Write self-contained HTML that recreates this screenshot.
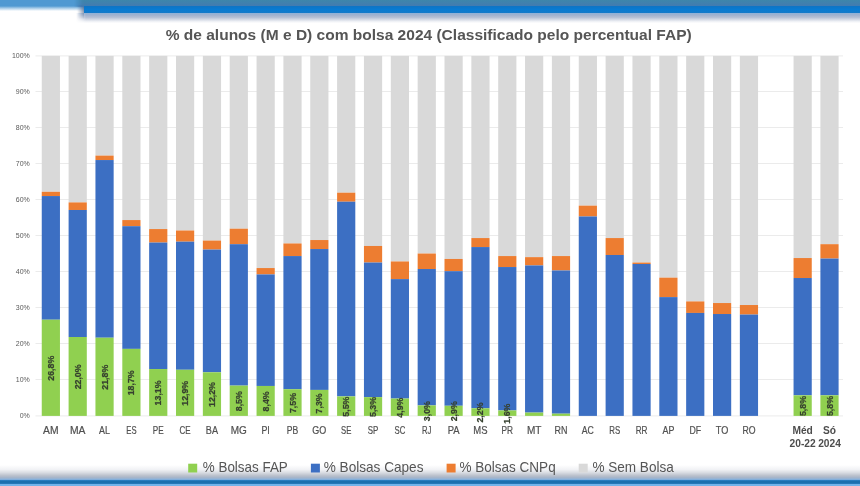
<!DOCTYPE html>
<html lang="pt"><head><meta charset="utf-8"><title>% de alunos com bolsa 2024</title>
<style>
html,body{margin:0;padding:0;background:#fff;}
body{width:860px;height:486px;position:relative;overflow:hidden;font-family:"Liberation Sans",sans-serif;}
.tl{position:absolute;left:0;top:0;width:100px;height:11px;background:linear-gradient(to bottom,#4f99d2 0,#4f99d2 6px,rgba(79,153,210,0.55) 8px,rgba(79,153,210,0.0) 11px);}
.tw{position:absolute;left:84px;top:-10px;width:800px;height:22px;box-shadow:0 1px 5px 1px rgba(70,95,140,0.6);background:#0e74c4;}
.tsh{position:absolute;left:76px;top:12.5px;width:790px;height:10.5px;background:linear-gradient(to bottom,#8fb1d8 0,#a0b1ce 2px,#b7c1d5 4.5px,rgba(215,220,231,0.9) 7px,rgba(240,242,246,0.6) 9px,rgba(255,255,255,0) 10.5px);-webkit-mask-image:linear-gradient(to right,transparent 0,#000 10px);mask-image:linear-gradient(to right,transparent 0,#000 10px);}
.t1{position:absolute;left:74px;top:0;width:786px;height:6.5px;background:linear-gradient(to bottom,#3d86ab,#4379b1);-webkit-mask-image:linear-gradient(to right,transparent 0,#000 10px);mask-image:linear-gradient(to right,transparent 0,#000 10px);}
.tls{position:absolute;left:77px;top:5px;width:7px;height:14px;background:linear-gradient(to right,rgba(70,90,125,0),rgba(70,90,125,0.45));-webkit-mask-image:linear-gradient(to bottom,#000 0,#000 7px,transparent 14px);mask-image:linear-gradient(to bottom,#000 0,#000 7px,transparent 14px);}
.t2{position:absolute;left:84px;top:6px;width:776px;height:6.5px;background:linear-gradient(to bottom,#0e74c4,#087bd2 50%,#1479c8);}
.bsh{position:absolute;left:0;top:465px;width:860px;height:15.4px;background:linear-gradient(to bottom,rgba(255,255,255,0) 0,#f1f2f5 4.5px,#dadde3 7.5px,#bcc2cd 10.5px,#a7b5c9 12.5px,#8eb3da 14.2px,#5fa0dc 15.4px);}
.b1{position:absolute;left:0;top:480.3px;width:860px;height:3.5px;background:linear-gradient(to bottom,#2f84c8 0,#1c6fae 35%,#1c6fae 80%,#3585c6 100%);}
.b2{position:absolute;left:0;top:483.7px;width:860px;height:2.3px;background:#72b3ea;}
</style></head><body>
<div class="bsh"></div>
<svg width="860" height="486" viewBox="0 0 860 486" style="position:absolute;left:0;top:0" font-family="'Liberation Sans', sans-serif">
<line x1="35.5" x2="843" y1="415.90" y2="415.90" stroke="#ebebeb" stroke-width="1"/>
<text x="29.8" y="417.90" font-size="7" fill="#595959" text-anchor="end">0%</text>
<line x1="35.5" x2="843" y1="379.54" y2="379.54" stroke="#ebebeb" stroke-width="1"/>
<text x="29.8" y="381.54" font-size="7" fill="#595959" text-anchor="end">10%</text>
<line x1="35.5" x2="843" y1="343.54" y2="343.54" stroke="#ebebeb" stroke-width="1"/>
<text x="29.8" y="345.54" font-size="7" fill="#595959" text-anchor="end">20%</text>
<line x1="35.5" x2="843" y1="307.54" y2="307.54" stroke="#ebebeb" stroke-width="1"/>
<text x="29.8" y="309.54" font-size="7" fill="#595959" text-anchor="end">30%</text>
<line x1="35.5" x2="843" y1="271.54" y2="271.54" stroke="#ebebeb" stroke-width="1"/>
<text x="29.8" y="273.54" font-size="7" fill="#595959" text-anchor="end">40%</text>
<line x1="35.5" x2="843" y1="235.54" y2="235.54" stroke="#ebebeb" stroke-width="1"/>
<text x="29.8" y="237.54" font-size="7" fill="#595959" text-anchor="end">50%</text>
<line x1="35.5" x2="843" y1="199.54" y2="199.54" stroke="#ebebeb" stroke-width="1"/>
<text x="29.8" y="201.54" font-size="7" fill="#595959" text-anchor="end">60%</text>
<line x1="35.5" x2="843" y1="163.54" y2="163.54" stroke="#ebebeb" stroke-width="1"/>
<text x="29.8" y="165.54" font-size="7" fill="#595959" text-anchor="end">70%</text>
<line x1="35.5" x2="843" y1="127.54" y2="127.54" stroke="#ebebeb" stroke-width="1"/>
<text x="29.8" y="129.54" font-size="7" fill="#595959" text-anchor="end">80%</text>
<line x1="35.5" x2="843" y1="91.54" y2="91.54" stroke="#ebebeb" stroke-width="1"/>
<text x="29.8" y="93.54" font-size="7" fill="#595959" text-anchor="end">90%</text>
<line x1="35.5" x2="843" y1="55.90" y2="55.90" stroke="#ebebeb" stroke-width="1"/>
<text x="29.8" y="57.90" font-size="7" fill="#595959" text-anchor="end">100%</text>
<rect x="41.75" y="55.90" width="18.2" height="135.90" fill="#d9d9d9"/>
<rect x="41.75" y="191.80" width="18.2" height="4.25" fill="#ed7d31"/>
<rect x="41.75" y="196.05" width="18.2" height="123.67" fill="#3c6fc3"/>
<rect x="41.75" y="319.72" width="18.2" height="96.18" fill="#90d050"/>
<text transform="translate(53.85,368.26) rotate(-90)" font-size="8.8" font-weight="bold" fill="#36402f" stroke="#36402f" stroke-width="0.25" text-anchor="middle">26,8%</text>
<text x="50.85" y="433.7" font-size="10.3" fill="#505050" stroke="#505050" stroke-width="0.2" text-anchor="middle" textLength="15.5" lengthAdjust="spacingAndGlyphs">AM</text>
<rect x="68.60" y="55.90" width="18.2" height="146.52" fill="#d9d9d9"/>
<rect x="68.60" y="202.42" width="18.2" height="7.56" fill="#ed7d31"/>
<rect x="68.60" y="209.98" width="18.2" height="127.02" fill="#3c6fc3"/>
<rect x="68.60" y="337.00" width="18.2" height="78.90" fill="#90d050"/>
<text transform="translate(80.70,376.90) rotate(-90)" font-size="8.8" font-weight="bold" fill="#36402f" stroke="#36402f" stroke-width="0.25" text-anchor="middle">22,0%</text>
<text x="77.70" y="433.7" font-size="10.3" fill="#505050" stroke="#505050" stroke-width="0.2" text-anchor="middle" textLength="15.5" lengthAdjust="spacingAndGlyphs">MA</text>
<rect x="95.45" y="55.90" width="18.2" height="99.72" fill="#d9d9d9"/>
<rect x="95.45" y="155.62" width="18.2" height="4.43" fill="#ed7d31"/>
<rect x="95.45" y="160.05" width="18.2" height="177.67" fill="#3c6fc3"/>
<rect x="95.45" y="337.72" width="18.2" height="78.18" fill="#90d050"/>
<text transform="translate(107.55,377.26) rotate(-90)" font-size="8.8" font-weight="bold" fill="#36402f" stroke="#36402f" stroke-width="0.25" text-anchor="middle">21,8%</text>
<text x="104.55" y="433.7" font-size="10.3" fill="#505050" stroke="#505050" stroke-width="0.2" text-anchor="middle" textLength="10.9" lengthAdjust="spacingAndGlyphs">AL</text>
<rect x="122.30" y="55.90" width="18.2" height="164.16" fill="#d9d9d9"/>
<rect x="122.30" y="220.06" width="18.2" height="6.12" fill="#ed7d31"/>
<rect x="122.30" y="226.18" width="18.2" height="122.70" fill="#3c6fc3"/>
<rect x="122.30" y="348.88" width="18.2" height="67.02" fill="#90d050"/>
<text transform="translate(134.40,382.84) rotate(-90)" font-size="8.8" font-weight="bold" fill="#36402f" stroke="#36402f" stroke-width="0.25" text-anchor="middle">18,7%</text>
<text x="131.40" y="433.7" font-size="10.3" fill="#505050" stroke="#505050" stroke-width="0.2" text-anchor="middle" textLength="10.3" lengthAdjust="spacingAndGlyphs">ES</text>
<rect x="149.15" y="55.90" width="18.2" height="173.16" fill="#d9d9d9"/>
<rect x="149.15" y="229.06" width="18.2" height="13.50" fill="#ed7d31"/>
<rect x="149.15" y="242.56" width="18.2" height="126.48" fill="#3c6fc3"/>
<rect x="149.15" y="369.04" width="18.2" height="46.86" fill="#90d050"/>
<text transform="translate(161.25,392.92) rotate(-90)" font-size="8.8" font-weight="bold" fill="#36402f" stroke="#36402f" stroke-width="0.25" text-anchor="middle">13,1%</text>
<text x="158.25" y="433.7" font-size="10.3" fill="#505050" stroke="#505050" stroke-width="0.2" text-anchor="middle" textLength="10.9" lengthAdjust="spacingAndGlyphs">PE</text>
<rect x="176.00" y="55.90" width="18.2" height="174.60" fill="#d9d9d9"/>
<rect x="176.00" y="230.50" width="18.2" height="11.16" fill="#ed7d31"/>
<rect x="176.00" y="241.66" width="18.2" height="128.10" fill="#3c6fc3"/>
<rect x="176.00" y="369.76" width="18.2" height="46.14" fill="#90d050"/>
<text transform="translate(188.10,393.28) rotate(-90)" font-size="8.8" font-weight="bold" fill="#36402f" stroke="#36402f" stroke-width="0.25" text-anchor="middle">12,9%</text>
<text x="185.10" y="433.7" font-size="10.3" fill="#505050" stroke="#505050" stroke-width="0.2" text-anchor="middle" textLength="11.1" lengthAdjust="spacingAndGlyphs">CE</text>
<rect x="202.85" y="55.90" width="18.2" height="184.68" fill="#d9d9d9"/>
<rect x="202.85" y="240.58" width="18.2" height="9.00" fill="#ed7d31"/>
<rect x="202.85" y="249.58" width="18.2" height="122.70" fill="#3c6fc3"/>
<rect x="202.85" y="372.28" width="18.2" height="43.62" fill="#90d050"/>
<text transform="translate(214.95,394.54) rotate(-90)" font-size="8.8" font-weight="bold" fill="#36402f" stroke="#36402f" stroke-width="0.25" text-anchor="middle">12,2%</text>
<text x="211.95" y="433.7" font-size="10.3" fill="#505050" stroke="#505050" stroke-width="0.2" text-anchor="middle" textLength="12.2" lengthAdjust="spacingAndGlyphs">BA</text>
<rect x="229.70" y="55.90" width="18.2" height="172.80" fill="#d9d9d9"/>
<rect x="229.70" y="228.70" width="18.2" height="15.48" fill="#ed7d31"/>
<rect x="229.70" y="244.18" width="18.2" height="141.42" fill="#3c6fc3"/>
<rect x="229.70" y="385.60" width="18.2" height="30.30" fill="#90d050"/>
<text transform="translate(241.80,401.20) rotate(-90)" font-size="8.8" font-weight="bold" fill="#36402f" stroke="#36402f" stroke-width="0.25" text-anchor="middle">8,5%</text>
<text x="238.80" y="433.7" font-size="10.3" fill="#505050" stroke="#505050" stroke-width="0.2" text-anchor="middle" textLength="16.1" lengthAdjust="spacingAndGlyphs">MG</text>
<rect x="256.55" y="55.90" width="18.2" height="212.15" fill="#d9d9d9"/>
<rect x="256.55" y="268.05" width="18.2" height="6.37" fill="#ed7d31"/>
<rect x="256.55" y="274.42" width="18.2" height="111.54" fill="#3c6fc3"/>
<rect x="256.55" y="385.96" width="18.2" height="29.94" fill="#90d050"/>
<text transform="translate(268.65,401.38) rotate(-90)" font-size="8.8" font-weight="bold" fill="#36402f" stroke="#36402f" stroke-width="0.25" text-anchor="middle">8,4%</text>
<text x="265.65" y="433.7" font-size="10.3" fill="#505050" stroke="#505050" stroke-width="0.2" text-anchor="middle" textLength="8.4" lengthAdjust="spacingAndGlyphs">PI</text>
<rect x="283.40" y="55.90" width="18.2" height="187.56" fill="#d9d9d9"/>
<rect x="283.40" y="243.46" width="18.2" height="12.60" fill="#ed7d31"/>
<rect x="283.40" y="256.06" width="18.2" height="133.14" fill="#3c6fc3"/>
<rect x="283.40" y="389.20" width="18.2" height="26.70" fill="#90d050"/>
<text transform="translate(295.50,403.00) rotate(-90)" font-size="8.8" font-weight="bold" fill="#36402f" stroke="#36402f" stroke-width="0.25" text-anchor="middle">7,5%</text>
<text x="292.50" y="433.7" font-size="10.3" fill="#505050" stroke="#505050" stroke-width="0.2" text-anchor="middle" textLength="11.5" lengthAdjust="spacingAndGlyphs">PB</text>
<rect x="310.25" y="55.90" width="18.2" height="184.14" fill="#d9d9d9"/>
<rect x="310.25" y="240.04" width="18.2" height="9.00" fill="#ed7d31"/>
<rect x="310.25" y="249.04" width="18.2" height="140.88" fill="#3c6fc3"/>
<rect x="310.25" y="389.92" width="18.2" height="25.98" fill="#90d050"/>
<text transform="translate(322.35,403.36) rotate(-90)" font-size="8.8" font-weight="bold" fill="#36402f" stroke="#36402f" stroke-width="0.25" text-anchor="middle">7,3%</text>
<text x="319.35" y="433.7" font-size="10.3" fill="#505050" stroke="#505050" stroke-width="0.2" text-anchor="middle" textLength="14.0" lengthAdjust="spacingAndGlyphs">GO</text>
<rect x="337.10" y="55.90" width="18.2" height="136.80" fill="#d9d9d9"/>
<rect x="337.10" y="192.70" width="18.2" height="9.00" fill="#ed7d31"/>
<rect x="337.10" y="201.70" width="18.2" height="194.70" fill="#3c6fc3"/>
<rect x="337.10" y="396.40" width="18.2" height="19.50" fill="#90d050"/>
<text transform="translate(349.20,406.60) rotate(-90)" font-size="8.8" font-weight="bold" fill="#36402f" stroke="#36402f" stroke-width="0.25" text-anchor="middle">5,5%</text>
<text x="346.20" y="433.7" font-size="10.3" fill="#505050" stroke="#505050" stroke-width="0.2" text-anchor="middle" textLength="10.3" lengthAdjust="spacingAndGlyphs">SE</text>
<rect x="363.95" y="55.90" width="18.2" height="190.08" fill="#d9d9d9"/>
<rect x="363.95" y="245.98" width="18.2" height="16.56" fill="#ed7d31"/>
<rect x="363.95" y="262.54" width="18.2" height="134.58" fill="#3c6fc3"/>
<rect x="363.95" y="397.12" width="18.2" height="18.78" fill="#90d050"/>
<text transform="translate(376.05,406.96) rotate(-90)" font-size="8.8" font-weight="bold" fill="#36402f" stroke="#36402f" stroke-width="0.25" text-anchor="middle">5,3%</text>
<text x="373.05" y="433.7" font-size="10.3" fill="#505050" stroke="#505050" stroke-width="0.2" text-anchor="middle" textLength="10.6" lengthAdjust="spacingAndGlyphs">SP</text>
<rect x="390.80" y="55.90" width="18.2" height="205.56" fill="#d9d9d9"/>
<rect x="390.80" y="261.46" width="18.2" height="17.64" fill="#ed7d31"/>
<rect x="390.80" y="279.10" width="18.2" height="119.46" fill="#3c6fc3"/>
<rect x="390.80" y="398.56" width="18.2" height="17.34" fill="#90d050"/>
<text transform="translate(402.90,407.68) rotate(-90)" font-size="8.8" font-weight="bold" fill="#36402f" stroke="#36402f" stroke-width="0.25" text-anchor="middle">4,9%</text>
<text x="399.90" y="433.7" font-size="10.3" fill="#505050" stroke="#505050" stroke-width="0.2" text-anchor="middle" textLength="10.8" lengthAdjust="spacingAndGlyphs">SC</text>
<rect x="417.65" y="55.90" width="18.2" height="197.64" fill="#d9d9d9"/>
<rect x="417.65" y="253.54" width="18.2" height="15.48" fill="#ed7d31"/>
<rect x="417.65" y="269.02" width="18.2" height="136.38" fill="#3c6fc3"/>
<rect x="417.65" y="405.40" width="18.2" height="10.50" fill="#90d050"/>
<text transform="translate(429.75,411.10) rotate(-90)" font-size="8.8" font-weight="bold" fill="#36402f" stroke="#36402f" stroke-width="0.25" text-anchor="middle">3,0%</text>
<text x="426.75" y="433.7" font-size="10.3" fill="#505050" stroke="#505050" stroke-width="0.2" text-anchor="middle" textLength="9.4" lengthAdjust="spacingAndGlyphs">RJ</text>
<rect x="444.50" y="55.90" width="18.2" height="203.04" fill="#d9d9d9"/>
<rect x="444.50" y="258.94" width="18.2" height="12.24" fill="#ed7d31"/>
<rect x="444.50" y="271.18" width="18.2" height="134.58" fill="#3c6fc3"/>
<rect x="444.50" y="405.76" width="18.2" height="10.14" fill="#90d050"/>
<text transform="translate(456.60,411.28) rotate(-90)" font-size="8.8" font-weight="bold" fill="#36402f" stroke="#36402f" stroke-width="0.25" text-anchor="middle">2,9%</text>
<text x="453.60" y="433.7" font-size="10.3" fill="#505050" stroke="#505050" stroke-width="0.2" text-anchor="middle" textLength="11.9" lengthAdjust="spacingAndGlyphs">PA</text>
<rect x="471.35" y="55.90" width="18.2" height="182.16" fill="#d9d9d9"/>
<rect x="471.35" y="238.06" width="18.2" height="9.00" fill="#ed7d31"/>
<rect x="471.35" y="247.06" width="18.2" height="161.22" fill="#3c6fc3"/>
<rect x="471.35" y="408.28" width="18.2" height="7.62" fill="#90d050"/>
<text transform="translate(483.45,412.54) rotate(-90)" font-size="8.8" font-weight="bold" fill="#36402f" stroke="#36402f" stroke-width="0.25" text-anchor="middle">2,2%</text>
<text x="480.45" y="433.7" font-size="10.3" fill="#505050" stroke="#505050" stroke-width="0.2" text-anchor="middle" textLength="14.2" lengthAdjust="spacingAndGlyphs">MS</text>
<rect x="498.20" y="55.90" width="18.2" height="200.16" fill="#d9d9d9"/>
<rect x="498.20" y="256.06" width="18.2" height="10.98" fill="#ed7d31"/>
<rect x="498.20" y="267.04" width="18.2" height="143.40" fill="#3c6fc3"/>
<rect x="498.20" y="410.44" width="18.2" height="5.46" fill="#90d050"/>
<text transform="translate(510.30,413.62) rotate(-90)" font-size="8.8" font-weight="bold" fill="#36402f" stroke="#36402f" stroke-width="0.25" text-anchor="middle">1,6%</text>
<text x="507.30" y="433.7" font-size="10.3" fill="#505050" stroke="#505050" stroke-width="0.2" text-anchor="middle" textLength="11.5" lengthAdjust="spacingAndGlyphs">PR</text>
<rect x="525.05" y="55.90" width="18.2" height="201.24" fill="#d9d9d9"/>
<rect x="525.05" y="257.14" width="18.2" height="8.28" fill="#ed7d31"/>
<rect x="525.05" y="265.42" width="18.2" height="147.18" fill="#3c6fc3"/>
<rect x="525.05" y="412.60" width="18.2" height="3.30" fill="#90d050"/>
<text x="534.15" y="433.7" font-size="10.3" fill="#505050" stroke="#505050" stroke-width="0.2" text-anchor="middle" textLength="14.5" lengthAdjust="spacingAndGlyphs">MT</text>
<rect x="551.90" y="55.90" width="18.2" height="200.16" fill="#d9d9d9"/>
<rect x="551.90" y="256.06" width="18.2" height="14.40" fill="#ed7d31"/>
<rect x="551.90" y="270.46" width="18.2" height="143.22" fill="#3c6fc3"/>
<rect x="551.90" y="413.68" width="18.2" height="2.22" fill="#90d050"/>
<text x="561.00" y="433.7" font-size="10.3" fill="#505050" stroke="#505050" stroke-width="0.2" text-anchor="middle" textLength="12.9" lengthAdjust="spacingAndGlyphs">RN</text>
<rect x="578.75" y="55.90" width="18.2" height="149.76" fill="#d9d9d9"/>
<rect x="578.75" y="205.66" width="18.2" height="10.80" fill="#ed7d31"/>
<rect x="578.75" y="216.46" width="18.2" height="199.44" fill="#3c6fc3"/>
<text x="587.85" y="433.7" font-size="10.3" fill="#505050" stroke="#505050" stroke-width="0.2" text-anchor="middle" textLength="12.1" lengthAdjust="spacingAndGlyphs">AC</text>
<rect x="605.60" y="55.90" width="18.2" height="182.16" fill="#d9d9d9"/>
<rect x="605.60" y="238.06" width="18.2" height="16.92" fill="#ed7d31"/>
<rect x="605.60" y="254.98" width="18.2" height="160.92" fill="#3c6fc3"/>
<text x="614.70" y="433.7" font-size="10.3" fill="#505050" stroke="#505050" stroke-width="0.2" text-anchor="middle" textLength="10.9" lengthAdjust="spacingAndGlyphs">RS</text>
<rect x="632.45" y="55.90" width="18.2" height="206.64" fill="#d9d9d9"/>
<rect x="632.45" y="262.54" width="18.2" height="1.44" fill="#ed7d31"/>
<rect x="632.45" y="263.98" width="18.2" height="151.92" fill="#3c6fc3"/>
<text x="641.55" y="433.7" font-size="10.3" fill="#505050" stroke="#505050" stroke-width="0.2" text-anchor="middle" textLength="11.8" lengthAdjust="spacingAndGlyphs">RR</text>
<rect x="659.30" y="55.90" width="18.2" height="221.76" fill="#d9d9d9"/>
<rect x="659.30" y="277.66" width="18.2" height="19.44" fill="#ed7d31"/>
<rect x="659.30" y="297.10" width="18.2" height="118.80" fill="#3c6fc3"/>
<text x="668.40" y="433.7" font-size="10.3" fill="#505050" stroke="#505050" stroke-width="0.2" text-anchor="middle" textLength="11.9" lengthAdjust="spacingAndGlyphs">AP</text>
<rect x="686.15" y="55.90" width="18.2" height="245.52" fill="#d9d9d9"/>
<rect x="686.15" y="301.42" width="18.2" height="11.52" fill="#ed7d31"/>
<rect x="686.15" y="312.94" width="18.2" height="102.96" fill="#3c6fc3"/>
<text x="695.25" y="433.7" font-size="10.3" fill="#505050" stroke="#505050" stroke-width="0.2" text-anchor="middle" textLength="11.7" lengthAdjust="spacingAndGlyphs">DF</text>
<rect x="713.00" y="55.90" width="18.2" height="247.14" fill="#d9d9d9"/>
<rect x="713.00" y="303.04" width="18.2" height="10.98" fill="#ed7d31"/>
<rect x="713.00" y="314.02" width="18.2" height="101.88" fill="#3c6fc3"/>
<text x="722.10" y="433.7" font-size="10.3" fill="#505050" stroke="#505050" stroke-width="0.2" text-anchor="middle" textLength="12.5" lengthAdjust="spacingAndGlyphs">TO</text>
<rect x="739.85" y="55.90" width="18.2" height="249.12" fill="#d9d9d9"/>
<rect x="739.85" y="305.02" width="18.2" height="9.54" fill="#ed7d31"/>
<rect x="739.85" y="314.56" width="18.2" height="101.34" fill="#3c6fc3"/>
<text x="748.95" y="433.7" font-size="10.3" fill="#505050" stroke="#505050" stroke-width="0.2" text-anchor="middle" textLength="13.1" lengthAdjust="spacingAndGlyphs">RO</text>
<rect x="793.55" y="55.90" width="18.2" height="202.14" fill="#d9d9d9"/>
<rect x="793.55" y="258.04" width="18.2" height="19.98" fill="#ed7d31"/>
<rect x="793.55" y="278.02" width="18.2" height="117.30" fill="#3c6fc3"/>
<rect x="793.55" y="395.32" width="18.2" height="20.58" fill="#90d050"/>
<text transform="translate(805.65,406.06) rotate(-90)" font-size="8.8" font-weight="bold" fill="#36402f" stroke="#36402f" stroke-width="0.25" text-anchor="middle">5,8%</text>
<text x="802.65" y="433.7" font-size="10.2" font-weight="bold" fill="#4d4d4d" text-anchor="middle">Méd</text>
<text x="802.65" y="446.9" font-size="10.2" font-weight="bold" fill="#4d4d4d" text-anchor="middle">20-22</text>
<rect x="820.40" y="55.90" width="18.2" height="188.28" fill="#d9d9d9"/>
<rect x="820.40" y="244.18" width="18.2" height="14.40" fill="#ed7d31"/>
<rect x="820.40" y="258.58" width="18.2" height="136.74" fill="#3c6fc3"/>
<rect x="820.40" y="395.32" width="18.2" height="20.58" fill="#90d050"/>
<text transform="translate(832.50,406.06) rotate(-90)" font-size="8.8" font-weight="bold" fill="#36402f" stroke="#36402f" stroke-width="0.25" text-anchor="middle">5,8%</text>
<text x="829.50" y="433.7" font-size="10.2" font-weight="bold" fill="#4d4d4d" text-anchor="middle">Só</text>
<text x="829.50" y="446.9" font-size="10.2" font-weight="bold" fill="#4d4d4d" text-anchor="middle">2024</text>
<text x="165.7" y="40.1" font-size="14.6" font-weight="bold" fill="#555555" textLength="526" lengthAdjust="spacingAndGlyphs">% de alunos (M e D) com bolsa 2024 (Classificado pelo percentual FAP)</text>
<rect x="188.2" y="463.7" width="9" height="8.8" fill="#90d050"/>
<text x="202.8" y="472.2" font-size="14.2" fill="#555" textLength="85.0" lengthAdjust="spacingAndGlyphs">% Bolsas FAP</text>
<rect x="310.9" y="463.7" width="9" height="8.8" fill="#3c6fc3"/>
<text x="323.7" y="472.2" font-size="14.2" fill="#555" textLength="99.8" lengthAdjust="spacingAndGlyphs">% Bolsas Capes</text>
<rect x="446.6" y="463.7" width="9" height="8.8" fill="#ed7d31"/>
<text x="459.4" y="472.2" font-size="14.2" fill="#555" textLength="96.3" lengthAdjust="spacingAndGlyphs">% Bolsas CNPq</text>
<rect x="578.7" y="463.7" width="9" height="8.8" fill="#d9d9d9"/>
<text x="592.4" y="472.2" font-size="14.2" fill="#555" textLength="81.4" lengthAdjust="spacingAndGlyphs">% Sem Bolsa</text>
</svg>
<div class="tl"></div><div class="tw"></div><div class="tsh"></div><div class="tls"></div><div class="t1"></div><div class="t2"></div>
<div class="b1"></div><div class="b2"></div>
</body></html>
